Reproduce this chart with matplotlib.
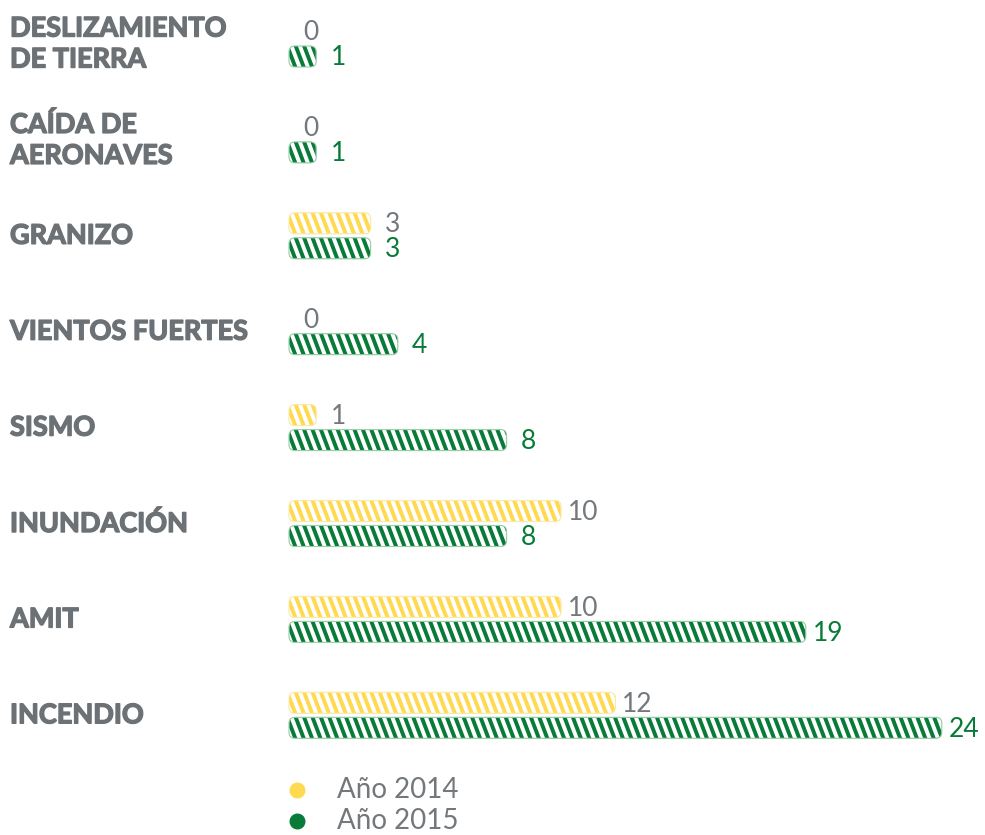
import matplotlib
matplotlib.use("Agg")
import matplotlib.pyplot as plt
import matplotlib.patheffects as pe
from matplotlib.patches import FancyBboxPatch
from matplotlib.collections import PolyCollection
import numpy as np

# --- data -------------------------------------------------------------
categories = [
    "DESLIZAMIENTO\nDE TIERRA",
    "CAÍDA DE\nAERONAVES",
    "GRANIZO",
    "VIENTOS FUERTES",
    "SISMO",
    "INUNDACIÓN",
    "AMIT",
    "INCENDIO",
]
values_2014 = [0, 0, 3, 0, 1, 10, 10, 12]
values_2015 = [1, 1, 3, 4, 8, 8, 19, 24]
series_labels = ["Año 2014", "Año 2015"]

# --- style ------------------------------------------------------------
YELLOW = "#FFD94F"
YELLOW_EDGE = "#FBE9A6"
GREEN = "#087B38"
GREEN_EDGE = "#9ACDA9"
GRAY = "#6B7175"
GRAY_VALUE = "#73787C"

W, H, DPI = 985, 835, 100
X0_PX = 289.0         # pixel column of value 0
PX_PER_UNIT = 27.2    # pixels per counted event
ROW_PX = 95.9         # pixels between category rows
ROW0_PX = 44.0        # pixel row of the first category centre
PAIR_GAP_PX = 25.0    # distance between the two bars of a category
BAR_PX = 21.0
RADIUS_PX = 6.0
STRIPE_PERIOD_PX = 8.4
STRIPE_WIDTH_PX = 4.2
STRIPE_SLANT_PX = 8.0
LABEL_GAP_PX = 22.0

plt.rcParams["font.family"] = ["Lato", "DejaVu Sans"]

fig = plt.figure(figsize=(W / DPI, H / DPI), dpi=DPI)
ax = fig.add_axes([0, 0, 1, 1])
ax.set_axis_off()
ax.set_xlim(-X0_PX / PX_PER_UNIT, (W - X0_PX) / PX_PER_UNIT)
ax.set_ylim((H - ROW0_PX) / ROW_PX, -ROW0_PX / ROW_PX)

idx = np.arange(len(categories))
half = PAIR_GAP_PX / ROW_PX / 2
bar_h = BAR_PX / ROW_PX
bars14 = ax.barh(idx - half, values_2014, height=bar_h, color=YELLOW)
bars15 = ax.barh(idx + half, values_2015, height=bar_h, color=GREEN)


def stylize(rect, color, edge):
    """Replace a plain bar by a rounded, diagonally striped one."""
    x, y = rect.get_x(), rect.get_y()
    w, h = rect.get_width(), rect.get_height()
    rect.set_visible(False)
    if w <= 0:
        return
    r = RADIUS_PX / PX_PER_UNIT
    aspect = PX_PER_UNIT / ROW_PX
    style = f"round,pad=0,rounding_size={r}"
    body = FancyBboxPatch((x, y), w, h, boxstyle=style, mutation_aspect=aspect,
                          facecolor=color, edgecolor="none", zorder=2)
    ax.add_patch(body)
    period = STRIPE_PERIOD_PX / PX_PER_UNIT
    sw = STRIPE_WIDTH_PX / PX_PER_UNIT
    slant = STRIPE_SLANT_PX / PX_PER_UNIT
    starts = np.arange(x - slant - period, x + w + period, period)
    polys = [[(s, y), (s + sw, y), (s + sw + slant, y + h), (s + slant, y + h)]
             for s in starts]
    stripes = PolyCollection(polys, facecolors="white", edgecolors="none", zorder=3)
    ax.add_collection(stripes)
    stripes.set_clip_path(body)
    outline = FancyBboxPatch((x, y), w, h, boxstyle=style, mutation_aspect=aspect,
                             fill=False, edgecolor=edge, linewidth=0.8, zorder=4)
    ax.add_patch(outline)


for rect in bars14:
    stylize(rect, YELLOW, YELLOW_EDGE)
for rect in bars15:
    stylize(rect, GREEN, GREEN_EDGE)

# value labels
for bars, vals, col in [(bars14, values_2014, GRAY_VALUE), (bars15, values_2015, GREEN)]:
    for rect, v in zip(bars, vals):
        ax.annotate(str(v), xy=(v, rect.get_y() + rect.get_height() / 2),
                    xytext=(LABEL_GAP_PX * 72 / DPI, -1), textcoords="offset points",
                    ha="center", va="center", fontsize=19, color=col,
                    fontweight="normal")

# category labels, thickened with a thin stroke of the same colour
heavy = [pe.withStroke(linewidth=1.0, foreground=GRAY)]
ytrans = ax.get_yaxis_transform()
for i, cat in enumerate(categories):
    ax.text(10 / W, i, cat, transform=ytrans, ha="left", va="center",
            fontsize=19.5, fontweight="bold", color=GRAY, linespacing=1.35,
            path_effects=heavy)

# legend
for k, (lab, col) in enumerate(zip(series_labels, [YELLOW, GREEN])):
    fy = 1 - (790 + 31 * k) / H
    ax.plot([297 / W], [fy], "o", transform=fig.transFigure, ms=10.5,
            color=col, clip_on=False)
    ax.text(337 / W, fy, lab, transform=fig.transFigure, ha="left",
            va="center", fontsize=20, color=GRAY_VALUE, fontweight="normal")

fig.savefig("out.png", dpi=DPI)
